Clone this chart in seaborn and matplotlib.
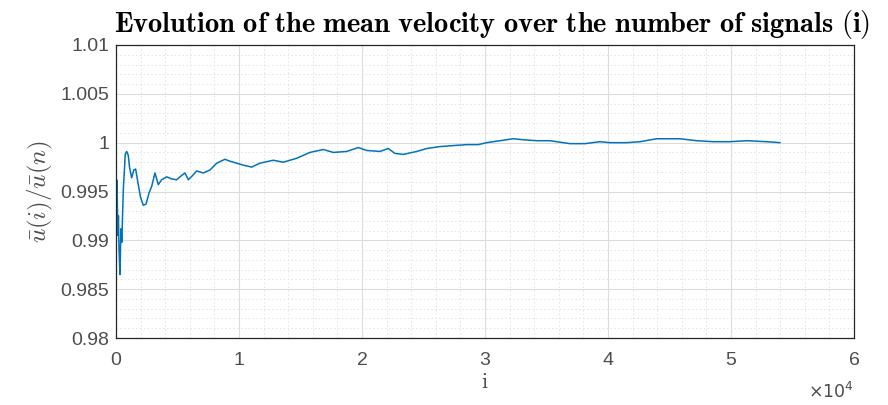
import matplotlib
matplotlib.use("Agg")
import matplotlib.pyplot as plt
import seaborn as sns
import pandas as pd
from matplotlib.ticker import AutoMinorLocator

# ---- data ----
signal_index = [0, 30, 60, 100, 150, 200, 250, 325, 380, 420, 470, 520, 580, 620, 700, 750, 870,
                1000, 1100, 1275, 1450, 1600, 1800, 2000, 2220, 2440, 2700, 2900, 3170, 3440,
                3710, 4120, 4500, 4930, 5300, 5610, 5880, 6200, 6560, 7100, 7640, 8190, 8860,
                9270, 9810, 10350, 11030, 11700, 12790, 13600, 14690, 15770, 16860, 17670,
                18750, 19700, 20380, 21460, 22140, 22680, 23360, 24450, 25260, 26340, 27420,
                28510, 29450, 30140, 31220, 32300, 33110, 34200, 35280, 36910, 38130, 39350,
                40160, 41520, 42600, 43960, 45850, 47210, 48560, 49920, 51280, 52900, 54000]
velocity_ratio = [0.9795, 0.9935, 0.9962, 0.9950, 0.9905, 0.9925, 0.9890, 0.9865, 0.9900, 0.9912,
                  0.9898, 0.9918, 0.9945, 0.9958, 0.9975, 0.9988, 0.9991,
                  0.9987, 0.9975, 0.9964, 0.9972, 0.9973, 0.9958, 0.9944, 0.9936, 0.9937,
                  0.9949, 0.9955, 0.9969, 0.9957,
                  0.9962, 0.9965, 0.9963, 0.9962, 0.9966, 0.9969, 0.9962, 0.9966, 0.9971,
                  0.9969, 0.9972, 0.9979, 0.9983,
                  0.9981, 0.9979, 0.9977, 0.9975, 0.9979, 0.9982, 0.9980, 0.9984, 0.9990,
                  0.9993, 0.9990,
                  0.9991, 0.9995, 0.9992, 0.9991, 0.9994, 0.9989, 0.9988, 0.9991, 0.9994,
                  0.9996, 0.9997,
                  0.9998, 0.9998, 1.0000, 1.0002, 1.0004, 1.0003, 1.0002, 1.0002, 0.9999,
                  0.9999, 1.0001,
                  1.0000, 1.0000, 1.0001, 1.0004, 1.0004, 1.0002, 1.0001, 1.0001, 1.0002,
                  1.0001, 1.0000]
x_ticks = [0, 10000, 20000, 30000, 40000, 50000, 60000]
x_tick_labels = ["0", "1", "2", "3", "4", "5", "6"]
y_ticks = [0.98, 0.985, 0.99, 0.995, 1.0, 1.005, 1.01]
y_tick_labels = ["0.98", "0.985", "0.99", "0.995", "1", "1.005", "1.01"]

df = pd.DataFrame({"i": signal_index, "ratio": velocity_ratio})

sns.set_theme(style="white")
plt.rcParams["font.family"] = ["Liberation Sans", "DejaVu Sans"]

fig = plt.figure(figsize=(8.88, 4.05), dpi=100)
ax = fig.add_axes([0.1306, 0.1654, 0.9617 - 0.1306, 0.8889 - 0.1654])

sns.lineplot(data=df, x="i", y="ratio", ax=ax, color="#0072BD", linewidth=1.1)

ax.set_xlim(0, 60000)
ax.set_ylim(0.98, 1.01)
ax.set_xticks(x_ticks)
ax.set_xticklabels(x_tick_labels)
ax.set_yticks(y_ticks)
ax.set_yticklabels(y_tick_labels)
ax.xaxis.set_minor_locator(AutoMinorLocator(5))
ax.yaxis.set_minor_locator(AutoMinorLocator(5))

ax.grid(which="major", color="#dcdcdc", linewidth=0.8, linestyle="-")
ax.grid(which="minor", color="#e2e2e2", linewidth=0.7, linestyle=(0, (1.5, 2.5)))
ax.set_axisbelow(True)

for s in ax.spines.values():
    s.set_color("#262626")
    s.set_linewidth(0.9)
    s.set_visible(True)

ax.tick_params(axis="both", which="major", direction="in", length=4, width=0.8,
               colors="#262626", labelsize=14, labelcolor="#4d4d4d")
ax.tick_params(axis="y", pad=5)
ax.tick_params(axis="x", pad=10)
ax.tick_params(axis="both", which="minor", length=0)

ax.set_xlabel(r"$\mathrm{i}$", fontsize=16, math_fontfamily="cm", color="#4d4d4d", labelpad=2)
ax.set_ylabel(r"$\bar{u}(i)/\bar{u}(n)$", fontsize=18, math_fontfamily="cm", color="#4d4d4d",
              labelpad=4)
ax.set_title(r"$\mathbf{Evolution\ of\ the\ mean\ velocity\ over\ the\ number\ of\ signals\ (i)}$",
             fontsize=20.5, math_fontfamily="cm", color="black", pad=9, x=0.51)

ax.text(1.0, -0.148, r"$\times10^{4}$", transform=ax.transAxes, ha="right", va="top",
        fontsize=12.5, color="#4d4d4d")

fig.savefig("out.png", dpi=100)
